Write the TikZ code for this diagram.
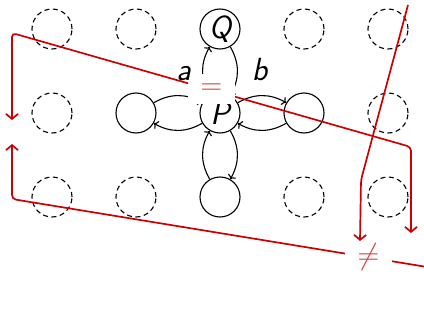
\RequirePackage{fix-cm}
\documentclass[tikz,border=0pt]{standalone}
\usepackage{fontspec}
\usetikzlibrary{arrows.meta}
\definecolor{lred}{RGB}{204,0,0}
\definecolor{eqred}{RGB}{214,64,64}
\begin{document}
\begin{tikzpicture}[x=1pt,y=-1pt,
  site/.style={circle, draw, line width=1.1pt, minimum size=40pt, inner sep=0pt,
    font=\fontsize{32}{36}\selectfont\sffamily\slshape},
  ghost/.style={site, dash pattern=on 5pt off 3.5pt},
  arr/.style={line width=1.1pt, -{Computer Modern Rightarrow[length=4pt,width=9pt]}, bend left=30},
  redl/.style={lred, line width=1.7pt, rounded corners=4pt},
  rtip/.style={lred},
  rel/.style={fill=white, inner sep=0pt, minimum width=47pt, minimum height=29.5pt,
    text=eqred, font=\fontsize{30}{30}\selectfont},
  lab/.style={anchor=base, font=\fontsize{32}{36}\selectfont\sffamily\slshape}
]
\useasboundingbox (0,0) rectangle (424,332);
% grid of sites
\node[ghost] (g00) at (52,29) {};
\node[ghost] (g10) at (136,29) {};
\node[site]  (Q)   at (220,29) {Q};
\node[ghost] (g30) at (304,29) {};
\node[ghost] (g40) at (388,29) {};
\node[ghost] (g01) at (52,113) {};
\node[site]  (L)   at (136,113) {};
\node[site]  (P)   at (220,113) {P};
\node[site]  (R)   at (304,113) {};
\node[ghost] (g41) at (388,113) {};
\node[ghost] (g02) at (52,197) {};
\node[ghost] (g12) at (136,197) {};
\node[site]  (B)   at (220,197) {};
\node[ghost] (g32) at (304,197) {};
\node[ghost] (g42) at (388,197) {};
% arrows
\draw[arr] (P) to (Q);
\draw[arr] (Q) to (P);
\draw[arr] (P) to (L);
\draw[arr] (L) to (P);
\draw[arr] (P) to (R);
\draw[arr] (R) to (P);
\draw[arr] (P) to (B);
\draw[arr] (B) to (P);
% red paths
\coordinate (r1a) at (12,120);
\coordinate (r1b) at (12,33);
\coordinate (r1c) at (411,147);
\coordinate (r1d) at (411,233);
\draw[redl, {Straight Barb[length=5pt,width=12pt]}-{Straight Barb[length=5pt,width=12pt]}]
  (r1a) -- (r1b) -- (r1c) -- (r1d);
\coordinate (r2a) at (12,144);
\coordinate (r2b) at (12,199);
\coordinate (r2c) at (424,266.5);
\draw[redl, {Straight Barb[length=5pt,width=12pt]}-] (r2a) -- (r2b) -- (r2c);
\coordinate (r3a) at (408,5);
\coordinate (r3b) at (361,180);
\coordinate (r3c) at (360,241);
\draw[redl, -{Straight Barb[length=5pt,width=12pt]}] (r3a) -- (r3b) -- (r3c);
% relation marks
\node[rel] (eq) at (211.5,88.75) {$=$};
\node[rel] (neq) at (368.5,257) {$\neq$};
% labels
\node[lab] (la) at (183.5,81) {a};
\node[lab] (lb) at (259.5,81) {b};
\end{tikzpicture}
\end{document}
